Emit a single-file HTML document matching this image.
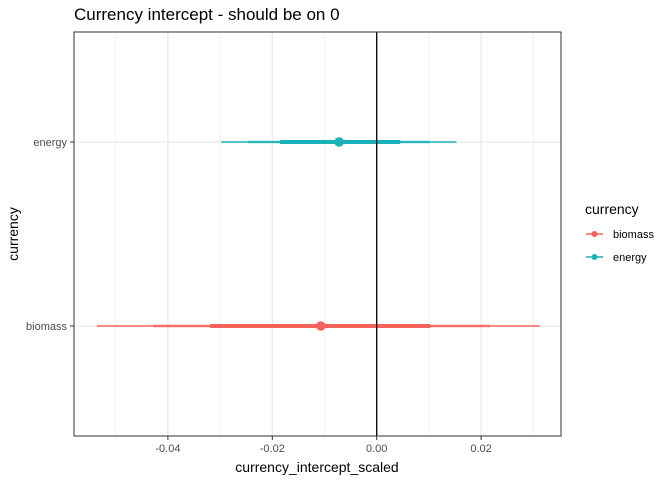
<!DOCTYPE html>
<html><head><meta charset="utf-8"><style>
body{margin:0;background:#fff;font-family:"Liberation Sans",Arial,sans-serif;}
svg text{font-family:"Liberation Sans",Arial,sans-serif;}
</style></head><body>
<svg id="chart" width="672" height="480">
<text x="74" y="20" font-size="17" fill="#000">Currency intercept - should be on 0</text>
<g id="grid"></g>
<g id="marks"></g>
<rect x="74" y="32" width="487" height="404" fill="none" stroke="#333" stroke-width="1"/>
<g id="axes"></g>
<text x="317" y="472" font-size="14" text-anchor="middle">currency_intercept_scaled</text>
<text transform="translate(18,234) rotate(-90)" font-size="14" text-anchor="middle">currency</text>
<g>
<text x="585" y="214" font-size="14">currency</text>
<g>
<line x1="586" y1="234" x2="603" y2="234" stroke="#F5635C" stroke-width="1.5"/><circle cx="594.5" cy="234" r="3" fill="#F5635C"/>
<text x="613" y="238" font-size="11">biomass</text></g>
<g>
<line x1="586" y1="257" x2="603" y2="257" stroke="#19B2B6" stroke-width="1.5"/><circle cx="594.5" cy="257" r="3" fill="#19B2B6"/>
<text x="613" y="261" font-size="11">energy</text></g>
</g>
</svg>
<script>
const categories = ["energy","biomass"];
const colors = ["#19B2B6","#F5635C"];
const pointEst = [-0.0072,-0.0107];
const thickLo = [-0.0185,-0.0319], thickHi = [0.0045,0.0103];
const medLo = [-0.0246,-0.0428], medHi = [0.0102,0.0217];
const thinLo = [-0.0298,-0.0536], thinHi = [0.0153,0.0312];
const xTicks = [-0.04,-0.02,0,0.02];
const xTickLabels = ["-0.04","-0.02","0.00","0.02"];
const xMinor = [-0.05,-0.03,-0.01,0.01,0.03];

const NS="http://www.w3.org/2000/svg";
const X = v => 376.7 + v*5220;
const Y = i => [142,326][i];
function mk(tag, attrs, parent){const e=document.createElementNS(NS,tag);for(const k in attrs)e.setAttribute(k,attrs[k]);parent.appendChild(e);return e;}
const grid=document.getElementById('grid'), marks=document.getElementById('marks'), axes=document.getElementById('axes');
xMinor.forEach(v=>{const l=mk('line',{x1:X(v),x2:X(v),y1:32,y2:436,stroke:'#ebebeb','stroke-width':0.6},grid);

});
xTicks.forEach((v,i)=>{const l=mk('line',{x1:X(v),x2:X(v),y1:32,y2:436,stroke:'#e5e5e5','stroke-width':1.1},grid);


const t=mk('line',{x1:X(v),x2:X(v),y1:436,y2:440,stroke:'#333'},axes);


const tx=mk('text',{x:X(v),y:452,'font-size':11,'text-anchor':'middle',fill:'#4d4d4d'},axes);tx.textContent=xTickLabels[i];

});
categories.forEach((c,i)=>{const l=mk('line',{x1:74,x2:561,y1:Y(i),y2:Y(i),stroke:'#e5e5e5','stroke-width':1.1},grid);


const t=mk('line',{x1:70,x2:74,y1:Y(i),y2:Y(i),stroke:'#333'},axes);


const tx=mk('text',{x:67,y:Y(i)+4,'font-size':11,'text-anchor':'end',fill:'#4d4d4d'},axes);tx.textContent=c;

});
categories.forEach((c,i)=>{
const a=mk('line',{x1:X(thinLo[i]),x2:X(thinHi[i]),y1:Y(i),y2:Y(i),stroke:colors[i],'stroke-width':1.6},marks);


const b=mk('line',{x1:X(medLo[i]),x2:X(medHi[i]),y1:Y(i),y2:Y(i),stroke:colors[i],'stroke-width':2.4,'stroke-opacity':0.75},marks);


const d=mk('line',{x1:X(thickLo[i]),x2:X(thickHi[i]),y1:Y(i),y2:Y(i),stroke:colors[i],'stroke-width':4},marks);


const p=mk('circle',{cx:X(pointEst[i]),cy:Y(i),r:4.8,fill:colors[i]},marks);

});
const z=mk('line',{x1:X(0),x2:X(0),y1:32,y2:436,stroke:'#000','stroke-width':1.3},marks);


</script>
</body></html>
